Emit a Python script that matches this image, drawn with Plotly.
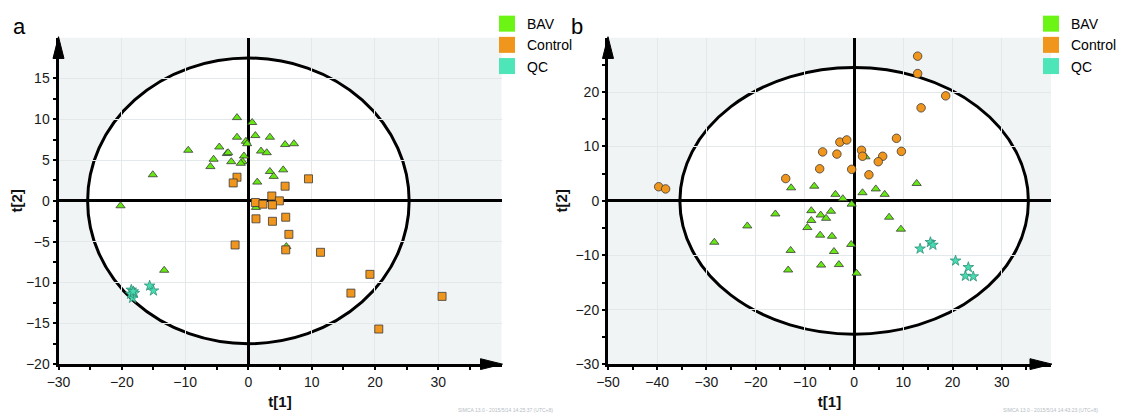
import plotly.graph_objects as go

# ---------------- data ----------------
groups = ["BAV", "Control", "QC"]

# panel a
bav_a_t1 = [-1.8, 0.6, -1.8, 1.1, 3.4, -0.4, -0.2, 5.8, 7.2, -4.6, -9.5, -3.4, -3.2, 2.0, 2.9,
            -0.7, -5.5, -2.7, -0.9, -1.2, -6.0, 5.5, 3.4, 4.0, -15.1, 1.4, 1.2, 6.0, -20.2, -13.3]
bav_a_t2 = [10.2, 9.6, 7.8, 8.0, 7.8, 7.3, 7.0, 6.9, 7.0, 6.6, 6.2, 5.8, 5.9, 6.1, 5.9,
            5.5, 5.1, 4.8, 4.8, 4.6, 4.2, 3.8, 3.6, 3.0, 3.2, 2.3, -0.8, -5.6, -0.6, -8.5]
ctl_a_t1 = [-1.8, -2.4, 9.5, 5.8, 3.7, 4.9, 1.1, 2.3, 3.8, 1.2, 3.8, 5.9, 6.4, -2.1, 5.9,
            11.4, 19.2, 16.2, 30.6, 20.6]
ctl_a_t2 = [2.9, 2.2, 2.7, 1.8, 0.6, 0.0, -0.2, -0.4, -0.5, -2.2, -2.5, -2.0, -4.1, -5.4, -6.0,
            -6.3, -9.0, -11.3, -11.7, -15.7]
qc_a_t1 = [-18.5, -18.0, -18.3, -18.6, -18.2, -15.6, -15.0]
qc_a_t2 = [-10.9, -11.3, -11.9, -11.4, -11.1, -10.4, -11.0]

# panel b
bav_b_t1 = [2.3, -12.8, -8.1, 12.7, -3.8, -2.3, 1.7, 4.4, 6.2, -0.5, -16.0, -8.7, -4.7, -6.8, -5.7,
            -8.7, -21.7, -9.5, 7.1, 9.5, -6.9, -4.5, -0.6, -12.9, -4.1, -6.7, -3.1, -13.4, 0.5, -28.4]
bav_b_t2 = [8.1, 2.4, 2.7, 3.2, 1.2, 0.4, 1.5, 2.2, 1.2, -0.6, -2.4, -1.8, -1.9, -2.6, -3.2,
            -3.6, -4.6, -4.9, -3.0, -5.2, -6.3, -6.5, -8.0, -9.1, -9.3, -11.8, -11.7, -12.7, -13.3, -7.6]
ctl_b_t1 = [-2.9, -1.5, -6.4, -3.5, 1.5, 1.7, 5.8, 4.9, 8.6, 9.6, -7.0, -0.5, 3.0, -13.9, 12.9,
            12.9, 18.6, 13.6, -39.7, -38.3]
ctl_b_t2 = [10.8, 11.2, 9.0, 8.6, 9.3, 8.2, 8.2, 7.2, 11.5, 9.1, 5.9, 5.8, 4.8, 4.1, 26.6,
            23.4, 19.3, 17.1, 2.6, 2.2]
qc_b_t1 = [13.4, 15.5, 16.0, 20.6, 23.2, 22.6, 24.2]
qc_b_t2 = [-8.8, -7.6, -8.1, -11.0, -12.2, -13.8, -13.9]

# Hotelling T2 ellipse semi-axes
ell_a = (25.4, 17.5)
ell_b = (35.4, 24.5)

stamp_a = "SIMCA 13.0 - 2015/5/14 14:25:37 (UTC+8)"
stamp_b = "SIMCA 13.0 - 2015/5/14 14:43:23 (UTC+8)"

# ---------------- styling ----------------
OFF = 8                      # page body margin
W, H = 1125 - OFF, 416 - OFF
FONT = "Liberation Sans, Arial, sans-serif"
C_BAV = "#66e812"
C_CTL = "#f0961c"
C_QC = "#46dcb0"
LEG_COL = {"BAV": "#6cf514", "Control": "#f0961c", "QC": "#4ee6b8"}
EDGE = "#3a3a3a"
BG = "#f1f4f5"
GRID = "#e3e9eb"


def px(x):
    """page pixel x -> paper fraction"""
    return (x - OFF) / W


def py(y):
    """page pixel y -> paper fraction"""
    return 1 - (y - OFF) / H


# plot-area pixel boxes (page coordinates)
A_L, A_R = 58.5, 501.5
B_L, B_R = 608.0, 1051.0
TOP, BOT = 33.0, 363.5

fig = go.Figure()

panels = [
    ("x", "y", "legend", (bav_a_t1, bav_a_t2), (ctl_a_t1, ctl_a_t2), (qc_a_t1, qc_a_t2), "square"),
    ("x2", "y2", "legend2", (bav_b_t1, bav_b_t2), (ctl_b_t1, ctl_b_t2), (qc_b_t1, qc_b_t2), "circle"),
]

for xa, ya, leg, bav, ctl, qc, ctl_sym in panels:
    fig.add_trace(go.Scatter(x=bav[0], y=bav[1], xaxis=xa, yaxis=ya, mode="markers", name="BAV",
                             showlegend=False,
                             marker=dict(symbol="triangle-up", size=8, color=C_BAV,
                                         line=dict(color=EDGE, width=0.8))))
    fig.add_trace(go.Scatter(x=ctl[0], y=ctl[1], xaxis=xa, yaxis=ya, mode="markers", name="Control",
                             showlegend=False,
                             marker=dict(symbol=ctl_sym, size=8 if ctl_sym == "square" else 8.5,
                                         color=C_CTL, line=dict(color=EDGE, width=0.8))))
    fig.add_trace(go.Scatter(x=qc[0], y=qc[1], xaxis=xa, yaxis=ya, mode="markers", name="QC",
                             showlegend=False,
                             marker=dict(symbol="star", size=8, color=C_QC,
                                         line=dict(color="#2f8f78", width=0.8))))
    # legend entries (square swatches)
    for g in groups:
        fig.add_trace(go.Scatter(x=[None], y=[None], xaxis=xa, yaxis=ya, mode="markers", name=g,
                                 legend=leg, showlegend=True,
                                 marker=dict(symbol="square", size=16, color=LEG_COL[g],
                                             line=dict(width=0))))

axis_common = dict(
    showgrid=True, gridcolor=GRID, gridwidth=1,
    zeroline=True, zerolinecolor="black", zerolinewidth=3,
    showline=True, linecolor="black", linewidth=3,
    ticks="outside", ticklen=3, tickwidth=2, tickcolor="black",
    tickfont=dict(family=FONT, size=14, color="#1a1a1a"),
    automargin=False, fixedrange=True,
)

title_font = dict(family=FONT, size=15, color="#111111")
minor_x = dict(dtick=5, ticks="outside", ticklen=3, tickwidth=2, tickcolor="black", showgrid=False)

fig.update_layout(
    width=W, height=H,
    margin=dict(l=0, r=0, t=0, b=0),
    paper_bgcolor="white", plot_bgcolor=BG,
    font=dict(family=FONT, color="#111111"),
    xaxis=dict(domain=[px(A_L), px(A_R)], range=[-30, 39.99], dtick=10, tick0=0, minor=minor_x,
               title=dict(text="<b>t[1]</b>", font=title_font, standoff=8), anchor="y", **axis_common),
    yaxis=dict(domain=[py(BOT), py(TOP)], range=[-20, 19.99], dtick=5, tick0=0,
               minor=dict(dtick=2.5, ticks="outside", ticklen=3, tickwidth=2, tickcolor="black", showgrid=False),
               title=dict(text="<b>t[2]</b>", font=title_font, standoff=15), anchor="x", **axis_common),
    xaxis2=dict(domain=[px(B_L), px(B_R)], range=[-50, 39.99], dtick=10, tick0=0, minor=minor_x,
                title=dict(text="<b>t[1]</b>", font=title_font, standoff=8), anchor="y2", **axis_common),
    yaxis2=dict(domain=[py(BOT), py(TOP)], range=[-30, 29.99], dtick=10, tick0=0, minor=minor_x,
                title=dict(text="<b>t[2]</b>", font=title_font, standoff=5), anchor="x2", **axis_common),
    legend=dict(x=px(487), y=py(3), xanchor="left", yanchor="top", bgcolor="rgba(0,0,0,0)",
                font=dict(family=FONT, size=14, color="black"), tracegroupgap=0, itemclick=False),
    legend2=dict(x=px(1031), y=py(3), xanchor="left", yanchor="top", bgcolor="rgba(0,0,0,0)",
                 font=dict(family=FONT, size=14, color="black"), tracegroupgap=0, itemclick=False),
)

shapes = []
# Hotelling ellipses (white inside, light grey outside)
for xr, yr, (ea, eb) in (("x", "y", ell_a), ("x2", "y2", ell_b)):
    shapes.append(dict(type="circle", xref=xr, yref=yr, x0=-ea, x1=ea, y0=-eb, y1=eb,
                       fillcolor="white", line=dict(color="black", width=3), layer="below"))


def tri(points):
    p = " L ".join(f"{px(a):.5f},{py(b):.5f}" for a, b in points)
    return "M " + p + " Z"


# axis arrowheads
for left, right in ((A_L, A_R), (B_L, B_R)):
    shapes.append(dict(type="path", xref="paper", yref="paper",
                       path=tri([(left - 5.5, TOP + 21), (left, TOP - 1), (left + 5.5, TOP + 21)]),
                       fillcolor="black", line=dict(color="black", width=1)))
    shapes.append(dict(type="path", xref="paper", yref="paper",
                       path=tri([(right - 21, BOT - 5.5), (right + 1, BOT), (right - 21, BOT + 5.5)]),
                       fillcolor="black", line=dict(color="black", width=1)))
fig.update_layout(shapes=shapes)

annotations = [
    dict(text="a", x=px(19), y=py(8.5), xref="paper", yref="paper", showarrow=False, borderpad=0,
         font=dict(family=FONT, size=22, color="black"), xanchor="center", yanchor="top"),
    dict(text="b", x=px(577), y=py(8.5), xref="paper", yref="paper", showarrow=False, borderpad=0,
         font=dict(family=FONT, size=22, color="black"), xanchor="center", yanchor="top"),
    dict(text=stamp_a, x=px(505), y=py(410), xref="paper", yref="paper", showarrow=False,
         font=dict(family=FONT, size=5, color="#b4bcc4"), xanchor="center", yanchor="middle"),
    dict(text=stamp_b, x=px(1050), y=py(410), xref="paper", yref="paper", showarrow=False,
         font=dict(family=FONT, size=5, color="#b4bcc4"), xanchor="center", yanchor="middle"),
]
fig.update_layout(annotations=annotations)

fig.write_html("out.html")
